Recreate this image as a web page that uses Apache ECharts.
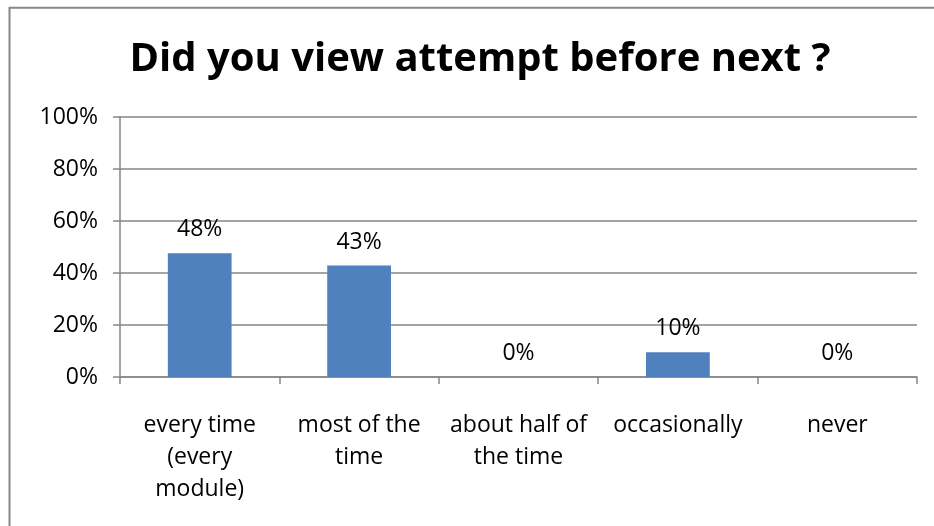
<!DOCTYPE html>
<html>
<head>
<meta charset="utf-8">
<script src="https://cdn.jsdelivr.net/npm/echarts@6/dist/echarts.min.js"></script>
<style>html,body{margin:0;padding:0;background:#fff}#c{width:934px;height:526px}</style>
</head>
<body>
<div id="c"></div>
<script>
const titleText = 'Did you view attempt before next ?';
const categories = ['every time\n(every\nmodule)', 'most of the\ntime', 'about half of\nthe time', 'occasionally', 'never'];
const values = [47.6, 42.9, 0, 9.5, 0];
const yTicks = [0, 20, 40, 60, 80, 100];

const FONT = '"Open Sans", sans-serif';
const chart = echarts.init(document.getElementById('c'));
chart.setOption({
  animation: false,
  backgroundColor: '#fff',
  graphic: [{
    type: 'rect', silent: true,
    shape: {x: 9.5, y: 7.7, width: 1000, height: 1000},
    style: {fill: 'none', stroke: '#878787', lineWidth: 2}
  }],
  title: {
    text: titleText,
    left: 475, top: 35, textAlign: 'center',
    textStyle: {fontFamily: FONT, fontWeight: 'bold', fontSize: 40, color: '#000'}
  },
  grid: {left: 120, right: 17, top: 117, bottom: 149},
  xAxis: {
    type: 'category', data: categories,
    axisLine: {lineStyle: {color: '#868686', width: 1.5}},
    axisTick: {show: true, length: 7, lineStyle: {color: '#868686', width: 1.5}},
    axisLabel: {fontFamily: FONT, fontSize: 23, color: '#000', margin: 32, lineHeight: 32, interval: 0}
  },
  yAxis: {
    type: 'value', min: yTicks[0], max: yTicks[yTicks.length - 1], interval: 20,
    axisLine: {show: true, lineStyle: {color: '#868686', width: 1.5}},
    axisTick: {show: true, length: 7, lineStyle: {color: '#868686', width: 1.5}},
    axisLabel: {fontFamily: FONT, fontSize: 23, color: '#000', margin: 22, formatter: '{value}%'},
    splitLine: {lineStyle: {color: '#868686', width: 1.5}}
  },
  series: [{
    type: 'bar', data: values, barWidth: '40%',
    itemStyle: {color: '#4f81bd'},
    label: {
      show: true, position: 'top', distance: 12,
      fontFamily: FONT, fontSize: 23, color: '#000',
      formatter: p => Math.round(p.value) + '%'
    }
  }]
});
</script>
</body>
</html>
